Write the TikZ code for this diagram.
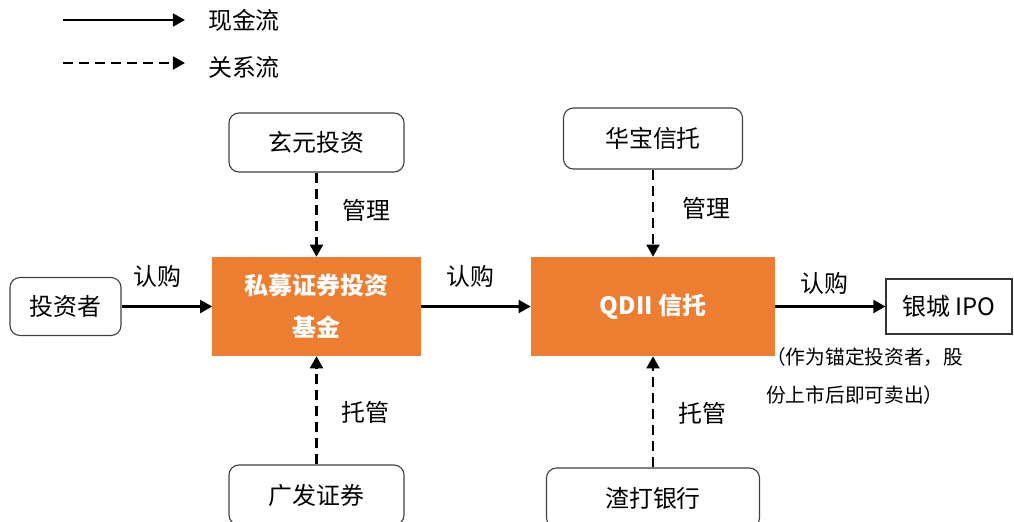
\documentclass[tikz,border=0pt]{standalone}
\usepackage{fontspec}
\setmainfont{Noto Sans CJK SC}
\usepackage{xcolor}
\usepackage{tikz}
\usetikzlibrary{arrows.meta}
\definecolor{fundorange}{HTML}{ED7D31}
\tikzset{
  roundbox/.style={draw=black!75, line width=0.8pt, rounded corners=0.25cm, font=\fontsize{17}{20}\selectfont, inner sep=0pt},
  squarebox/.style={draw=black!80, line width=0.8pt, font=\fontsize{17}{20}\selectfont, inner sep=0pt},
  fundbox/.style={fill=fundorange, text=white, font=\bfseries\fontsize{17}{30}\selectfont, align=center, inner sep=0pt},
  lbl/.style={font=\fontsize{17}{20}\selectfont},
  cash/.style={-{Triangle[length=0.3cm,width=0.32cm]}, line width=1.7pt},
  rel/.style={cash, dash pattern=on 0.25cm off 0.15cm},
}
\begin{document}
\begin{tikzpicture}[x=0.025cm,y=-0.025cm]
\useasboundingbox (0,0) rectangle (1014,521);
% legend
\coordinate (cashA) at (63,20);
\coordinate (cashB) at (185,20);
\coordinate (relA) at (63,63);
\coordinate (relB) at (185,63);
\draw [cash] (cashA) -- (cashB);
\draw [rel] (relA) -- (relB);
\node [lbl] (cashtxt) at (244,20) {现金流};
\node [lbl] (reltxt) at (244,67) {关系流};

% boxes
\node [roundbox, minimum width=4.375cm, minimum height=1.475cm] (xuanyuan) at (316.5,142.5) {玄元投资};
\node [roundbox, minimum width=4.375cm, minimum height=1.5cm] (guangfa) at (316.5,495) {广发证券};
\node [roundbox, minimum width=2.775cm, minimum height=1.45cm] (investor) at (65.5,306.5) {投资者};
\node [fundbox, minimum width=5.2cm, minimum height=2.475cm] (privfund) at (316.5,306.5) {私募证券投资\\基金};
\node [fundbox, minimum width=6.1cm, minimum height=2.475cm] (qdii) at (653,306.5) {QDII 信托};
\node [roundbox, minimum width=4.475cm, minimum height=1.525cm] (huabao) at (653,138.5) {华宝信托};
\node [roundbox, minimum width=5.325cm, minimum height=1.5cm] (zhada) at (653,498) {渣打银行};
\node [squarebox, minimum width=3.15cm, minimum height=1.375cm] (yincheng) at (949,306.5) {银城 IPO};

% connectors
\draw [cash] (investor) -- (privfund);
\draw [cash] (privfund) -- (qdii);
\draw [cash] (qdii) -- (yincheng);
\draw [rel] (xuanyuan) -- (privfund);
\draw [rel] (guangfa) -- (privfund);
\draw [rel] (huabao) -- (qdii);
\draw [rel] (zhada) -- (qdii);

% labels
\node [lbl] (buy1) at (157,276) {认购};
\node [lbl] (buy2) at (470,276) {认购};
\node [lbl] (buy3) at (824,283) {认购};
\node [lbl] (manage1) at (366,210) {管理};
\node [lbl] (manage2) at (706,208) {管理};
\node [lbl] (custody1) at (365,412) {托管};
\node [lbl] (custody2) at (702,413) {托管};
\node [anchor=west, align=left, font=\fontsize{14}{26.5}\selectfont, inner sep=0pt] (note) at (766,376) {（作为锚定投资者，股\\份上市后即可卖出）};
\end{tikzpicture}
\end{document}
